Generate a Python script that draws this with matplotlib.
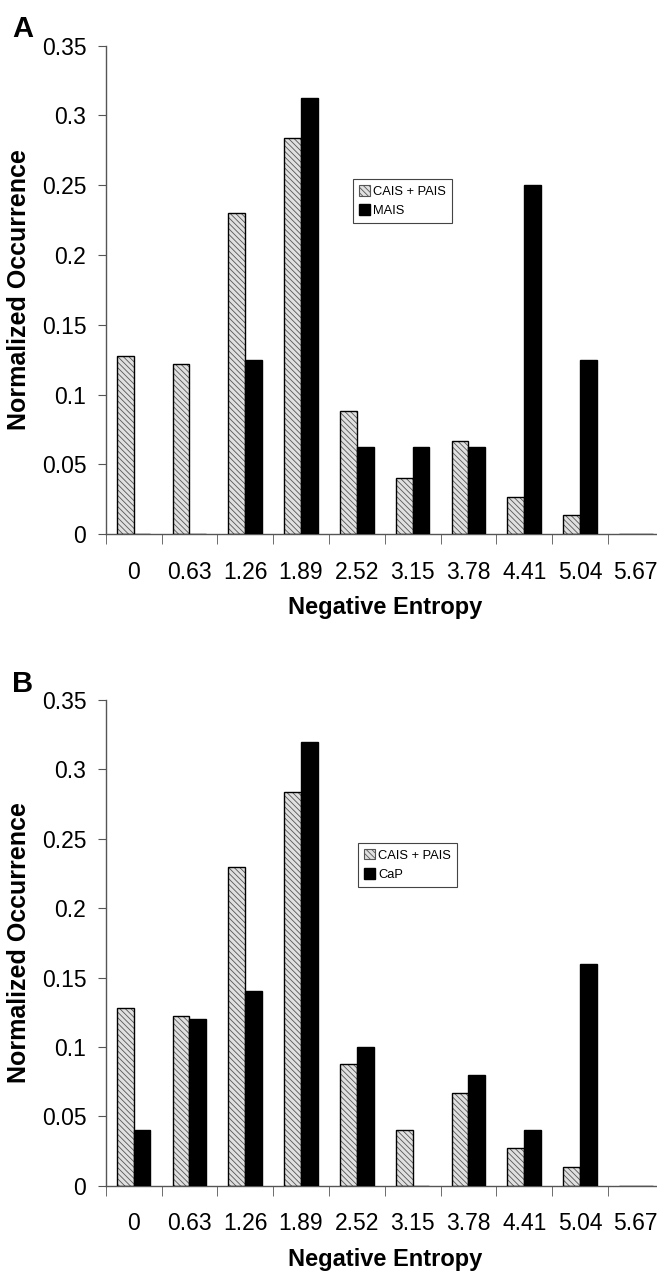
import matplotlib
matplotlib.use('Agg')
import matplotlib.pyplot as plt
import numpy as np

plt.rcParams['font.family'] = ['Liberation Sans', 'DejaVu Sans']
plt.rcParams['hatch.linewidth'] = 0.6

entropy_labels = ['0', '0.63', '1.26', '1.89', '2.52', '3.15', '3.78', '4.41', '5.04', '5.67']
cais_pais = [0.128, 0.122, 0.230, 0.284, 0.088, 0.040, 0.067, 0.027, 0.0135, 0.0]
mais = [0.0, 0.0, 0.125, 0.3125, 0.0625, 0.0625, 0.0625, 0.25, 0.125, 0.0]
cap = [0.04, 0.12, 0.14, 0.32, 0.10, 0.0, 0.08, 0.04, 0.16, 0.0]

W = 0.3


def draw_panel(ax, other, other_name, letter, leg_pos):
    x = np.arange(len(entropy_labels))
    # hatched bars: hatch layer then black outline
    ax.bar(x - W/2, cais_pais, W, color='#e0e0e0', edgecolor='#555555',
           hatch='\\\\\\\\\\\\', linewidth=0, zorder=2)
    ax.bar(x - W/2, cais_pais, W, facecolor='none', edgecolor='black',
           linewidth=1.0, zorder=3)
    ax.bar(x + W/2, other, W, color='black', edgecolor='black', linewidth=1.0, zorder=3)

    ax.set_xlim(-0.5, len(entropy_labels) - 0.5)
    ax.set_ylim(0, 0.35)
    ax.set_yticks(np.arange(0, 0.351, 0.05))
    ax.set_yticklabels(['0', '0.05', '0.1', '0.15', '0.2', '0.25', '0.3', '0.35'])
    ax.set_xticks(x)
    ax.set_xticklabels(entropy_labels)
    ax.set_xticks(np.arange(len(entropy_labels) + 1) - 0.5, minor=True)
    ax.tick_params(axis='x', which='major', length=0, pad=19, labelsize=16.5)
    ax.tick_params(axis='x', which='minor', length=7, direction='out', color='#555555')
    ax.tick_params(axis='y', length=6, direction='out', color='#555555', labelsize=16.5, pad=8)

    for s in ['top', 'right']:
        ax.spines[s].set_visible(False)
    for s in ['left', 'bottom']:
        ax.spines[s].set_color('#555555')
        ax.spines[s].set_linewidth(1.0)

    ax.set_ylabel('Normalized Occurrence', fontsize=18, fontweight='bold', labelpad=8)
    ax.set_xlabel('Negative Entropy', fontsize=17, fontweight='bold', labelpad=9)

    h1 = plt.Rectangle((0, 0), 1, 1, facecolor='#e0e0e0', edgecolor='#555555',
                       hatch='\\\\\\\\\\\\', linewidth=0.8)
    h2 = plt.Rectangle((0, 0), 1, 1, facecolor='black', edgecolor='black')
    leg = ax.legend([h1, h2], ['CAIS + PAIS', other_name], loc='upper left',
                    bbox_to_anchor=leg_pos, fontsize=9.3, fancybox=False,
                    framealpha=1, edgecolor='#444444', handlelength=0.9,
                    handleheight=0.9, handletextpad=0.2, borderpad=0.45,
                    labelspacing=0.5, borderaxespad=0)
    leg.get_frame().set_linewidth(0.8)

    ax.text(-0.168, 1.005, letter, transform=ax.transAxes, fontsize=21,
            fontweight='bold', ha='left', va='bottom')


fig = plt.figure(figsize=(6.57, 12.72), dpi=100)
ax1 = fig.add_axes([0.1609, 0.5800, 0.8493, 0.3841])
ax2 = fig.add_axes([0.1609, 0.0678, 0.8493, 0.3818])

draw_panel(ax1, mais, 'MAIS', 'A', (0.443, 0.727))
draw_panel(ax2, cap, 'CaP', 'B', (0.452, 0.706))

fig.savefig('out.png', dpi=100)
